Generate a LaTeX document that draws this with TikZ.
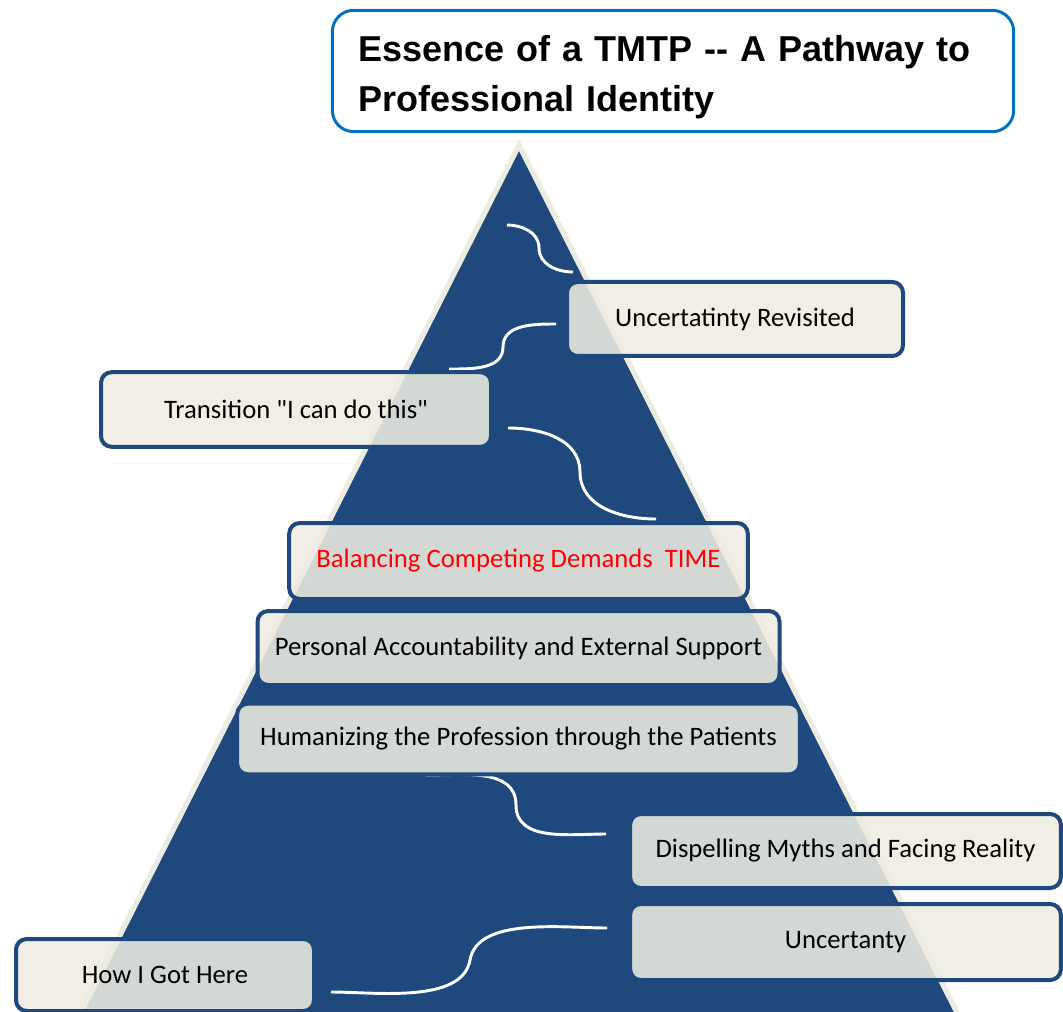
\documentclass[tikz,border=0pt]{standalone}
\usepackage{fontspec}
\setmainfont{Carlito}[Ligatures=TeXOff]
\newfontfamily\titlefont{Liberation Sans}
\usetikzlibrary{positioning}
\definecolor{pyrblue}{HTML}{1F497D}
\definecolor{cream}{HTML}{EEECE1}
\definecolor{titleblue}{HTML}{0070C0}

\begin{document}
\begin{tikzpicture}[x=0.75pt,y=0.75pt,
   stage/.style={draw=pyrblue,line width=3pt,rounded corners=8pt,fill=cream,
     fill opacity=0.88,text opacity=1,font=\fontsize{20}{24}\selectfont},
   swirl/.style={draw=white,line width=2.2pt}]
   \useasboundingbox (0,0) rectangle (1063,-1012);
   \clip (0,0) rectangle (1063,-1012);
   % pyramid
   \coordinate (top) at (519,-145);
   \coordinate (bl) at (61,-1052);
   \coordinate (br) at (977,-1052);
   \filldraw[fill=pyrblue,draw=cream,line width=4pt] (top) -- (br) -- (bl) -- cycle;
   % title
   \node[draw=titleblue,line width=2.2pt,rounded corners=16pt,fill=white,
     minimum width=511pt,minimum height=91pt] (title) at (673,-71) {};
   \node[anchor=base west,inner sep=0pt,text width=480pt,align=left,
     font=\titlefont\bfseries\fontsize{27}{37.5}\selectfont] (titletext) at (358,-62)
     {Essence of a TMTP -- A Pathway to\\Professional Identity};
   % swirls
   \coordinate (a1) at (507,-225); \coordinate (a2) at (539,-248); \coordinate (a3) at (573,-272);
   \coordinate (b1) at (556,-324); \coordinate (b2) at (503,-347); \coordinate (b3) at (449,-369);
   \coordinate (c1) at (508,-428); \coordinate (c2) at (580,-472); \coordinate (c3) at (656,-519);
   \coordinate (d1) at (426,-775); \coordinate (d2) at (516,-805); \coordinate (d3) at (606,-834);
   \coordinate (e1) at (607,-928); \coordinate (e2) at (470,-960); \coordinate (e3) at (331,-992);
   \path[swirl] (a1) to[out=0,in=90] (a2) to[out=-90,in=180] (a3);
   \path[swirl] (b1) to[out=180,in=90] (b2) to[out=-90,in=0] (b3);
   \path[swirl] (c1) to[out=0,in=90] (c2) to[out=-90,in=180] (c3);
   \path[swirl] (d1) to[out=0,in=90] (d2) to[out=-90,in=180] (d3);
   \path[swirl] (e1) to[out=180,in=80,looseness=0.8] (e2) to[out=-100,in=0,looseness=0.8] (e3);
   % stages
   \node[stage,minimum width=252pt,minimum height=55.5pt] (revisit) at (735,-319) {Uncertatinty Revisited};
   \node[stage,minimum width=292.5pt,minimum height=56pt] (trans) at (296,-409.5) {Transition "I can do this"};
   \node[stage,minimum width=344pt,minimum height=57pt,text=red] (balance) at (518.5,-561) {Balancing Competing Demands\ \ TIME};
   \node[stage,minimum width=391.5pt,minimum height=55.5pt] (personal) [below=6pt of balance] {Personal Accountability and External Support};
   \node[stage,minimum width=422pt,minimum height=53pt] (human) [below=11pt of personal] {Humanizing the Profession through the Patients};
   \node[stage,minimum width=323pt,minimum height=55.5pt] (dispel) at (845.5,-851) {Dispelling Myths and Facing Reality};
   \node[stage,minimum width=323pt,minimum height=57pt] (uncert) [below=9pt of dispel] {Uncertanty};
   \node[stage,minimum width=223.5pt,minimum height=54pt] (howgot) at (165,-975) {How I Got Here};
\end{tikzpicture}
\end{document}
